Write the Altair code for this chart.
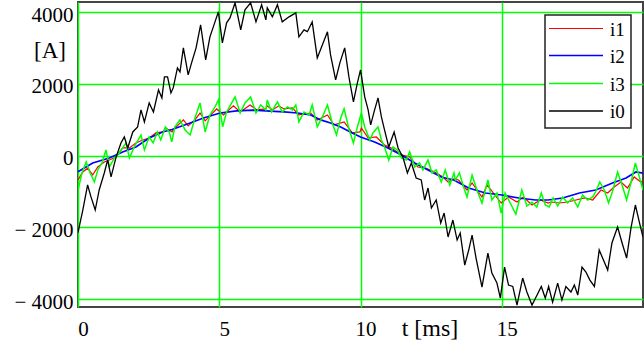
import altair as alt
import pandas as pd

# ---- data (t in ms, current in A) ----
i0_t = [0, 0.17, 0.34, 0.46, 0.61, 0.75, 0.93, 1.05, 1.17, 1.35, 1.52, 1.64, 1.76, 1.94, 2.11, 2.23,
        2.35, 2.52, 2.67, 2.85, 2.97, 3.06, 3.17, 3.29, 3.37, 3.52, 3.61, 3.73, 3.90, 4.02, 4.18, 4.34,
        4.52, 4.67, 4.79, 4.97, 5.11, 5.26, 5.38, 5.56, 5.76, 5.91, 6.11, 6.30, 6.50, 6.65, 6.70, 6.88,
        7.06, 7.23, 7.47, 7.71, 7.82, 8.00, 8.12, 8.29, 8.47, 8.68, 8.83, 8.94, 9.12, 9.27, 9.44, 9.59,
        9.75, 9.89, 10.0, 10.15, 10.27, 10.36, 10.48, 10.62, 10.74, 10.85, 11.0, 11.19, 11.33, 11.5,
        11.66, 11.80, 11.97, 12.15, 12.27, 12.39, 12.51, 12.68, 12.84, 12.96, 13.10, 13.27, 13.42, 13.53,
        13.69, 13.83, 13.95, 14.09, 14.30, 14.51, 14.65, 14.83, 14.95, 15.10, 15.24, 15.39, 15.54, 15.74,
        15.89, 16.07, 16.25, 16.40, 16.54, 16.66, 16.80, 16.98, 17.13, 17.27, 17.45, 17.57, 17.69, 17.84,
        17.98, 18.12, 18.28, 18.45, 18.60, 18.75, 18.90, 19.10, 19.26, 19.42, 19.58, 19.73, 19.87, 20.0]
i0_v = [-2150, -1517, -818, -1150, -1517, -958, -483, -120, -594, -36, 355, 522, 215, 662, 802, 1276,
        941, 1472, 1220, 1835, 1611, 2198, 2198, 1751, 1891, 2450, 2338, 3008, 2254, 2589, 3008, 3651,
        2673, 3316, 3595, 4014, 3148, 3706, 3846, 4265, 3511, 4070, 4265, 3734, 4209, 3790, 4125, 3874,
        4209, 3734, 3874, 3985, 3316, 3511, 3460, 3734, 2729, 3148, 3455, 2812, 2114, 2589, 3008, 2198,
        1500, 2030, 2394, 1640, 1276, 857, 1220, 1611, 1081, 718, 243, 662, 215, -36,
        -483, -204, -623, -679, -1237, -902, -1461, -1237, -1880, -1600, -2270, -1796, -2354, -2159,
        -3052, -2634, -2215, -2857, -3667, -2717, -3276, -3555, -3974, -3109, -3611, -3650, -4170, -3415,
        -3806, -4170, -3890, -3650, -3974, -3650, -4086, -3555, -4030, -3650, -3806, -3611, -3890, -3109,
        -3248, -3471, -3650, -2634, -2913, -3192, -2438, -1991, -2438, -2857, -1991, -1377, -1852, -2270]

i1_t = [0, 0.17, 0.34, 0.52, 0.70, 0.93, 1.11, 1.35, 1.58, 1.82, 2.05, 2.29, 2.52, 2.76, 3.0, 3.11,
        3.33, 3.37, 3.73, 3.90, 4.14, 4.32, 4.50, 4.91, 5.15, 5.50, 5.74, 6.09, 6.33, 6.65, 6.70, 6.88,
        7.11, 7.29, 7.59, 7.82, 8.24, 8.47, 8.83, 9.06, 9.42, 9.71, 9.98, 10.03, 10.27, 10.56, 10.85,
        11.09, 11.45, 11.74, 12.03, 12.33, 12.62, 12.92, 13.10, 13.31, 13.47, 13.77, 13.95, 14.30, 14.48,
        14.98, 15.24, 15.54, 15.77, 16.07, 16.37, 16.64, 16.74, 17.04, 17.33, 17.63, 17.93, 18.22, 18.51,
        18.75, 18.98, 19.22, 19.45, 19.69, 19.92, 20.0]
i1_v = [-680, -455, -350, -539, -316, -176, -120, -36, 215, 215, 355, 438, 494, 634, 662, 771,
        662, 718, 997, 830, 997, 1190, 970, 1304, 1136, 1390, 1220, 1415, 1276, 1304, 1390, 1276,
        1390, 1304, 1330, 1136, 1190, 997, 1136, 858, 941, 634, 662, 771, 494, 522, 299,
        215, 20, -36, -316, -350, -455, -594, -734, -650, -679, -958, -762, -1153, -818,
        -1321, -1153, -1293, -1153, -1377, -1237, -1321, -1293, -1321, -1293, -1237, -1181, -1237, -958,
        -1041, -874, -734, -902, -594, -734, -700]

i2_t = [0, 0.52, 1.11, 1.58, 2.05, 2.52, 3.0, 3.33, 3.97, 4.44, 5.03, 5.62, 6.2, 6.65, 7.29, 7.77,
        8.24, 8.59, 8.94, 9.30, 9.71, 10.0, 10.5, 10.97, 11.45, 11.92, 12.39, 12.86, 13.3, 13.83, 14.42,
        15.0, 15.6, 16.2, 16.64, 17.16, 17.75, 18.33, 18.92, 19.4, 19.75, 20.0]
i2_v = [-447, -204, -64, 103, 243, 494, 662, 730, 911, 1050, 1190, 1250, 1270, 1250, 1220, 1190,
        1136, 997, 911, 802, 634, 522, 383, 215, 20, -204, -399, -594, -679, -902, -1041,
        -1097, -1181, -1237, -1237, -1181, -1041, -958, -762, -623, -455, -490]

i3_t = [0, 0.14, 0.29, 0.43, 0.58, 0.70, 0.85, 0.99, 1.11, 1.29, 1.46, 1.70, 1.82, 1.99, 2.23, 2.35,
        2.52, 2.66, 2.81, 2.93, 3.09, 3.23, 3.32, 3.43, 3.61, 3.79, 3.97, 4.14, 4.32, 4.50, 4.67, 4.85,
        4.97, 5.12, 5.26, 5.44, 5.56, 5.74, 5.91, 6.11, 6.30, 6.47, 6.65, 6.70, 6.85, 7.06, 7.23, 7.41,
        7.59, 7.71, 7.82, 8.0, 8.18, 8.29, 8.47, 8.65, 8.83, 9.0, 9.15, 9.30, 9.42, 9.59, 9.75, 9.89,
        9.98, 10.03, 10.15, 10.33, 10.44, 10.62, 10.74, 10.85, 11.0, 11.15, 11.30, 11.45, 11.62, 11.74,
        11.92, 12.09, 12.21, 12.39, 12.53, 12.68, 12.86, 13.0, 13.16, 13.31, 13.36, 13.50, 13.65, 13.77,
        13.95, 14.12, 14.30, 14.51, 14.65, 14.83, 14.98, 15.12, 15.30, 15.50, 15.71, 15.89, 16.07, 16.24,
        16.40, 16.54, 16.68, 16.82, 16.98, 17.16, 17.33, 17.51, 17.69, 17.86, 18.04, 18.22, 18.33, 18.47,
        18.63, 18.78, 18.92, 19.10, 19.26, 19.42, 19.58, 19.73, 19.87, 20.0]
i3_v = [-958, -483, -176, -483, -734, -399, -204, 159, -316, -64, 75, 355, -64, 243, 578, 159,
        522, 355, 662, 438, 802, 662, 383, 802, 997, 718, 578, 1050, 1472, 662, 1136, 1360,
        1555, 802, 1220, 1472, 1640, 1190, 1472, 1640, 1190, 1415, 1276, 1555, 1220, 1500, 1220, 1360,
        1276, 1415, 941, 1220, 1136, 1415, 802, 1081, 1415, 911, 578, 1050, 1304, 746, 355, 802,
        1050, 1190, 802, 438, 634, 802, 438, 243, -120, 243, 159, -64, -120, 103,
        -316, -204, -399, -120, -483, -399, -734, -399, -818, -483, -679, -483, -874, -1153,
        -539, -958, -1321, -679, -1237, -1041, -1600, -1041, -1321, -1628, -958, -1405, -1300, -1433,
        -1041, -1377, -1433, -1181, -1405, -1153, -1321, -1181, -1433, -1097, -1237, -1153, -1000, -734,
        -958, -1321, -1000, -455, -818, -1237, -734, -204, -594, -958]

series_names = ["i1", "i2", "i3", "i0"]
series_colors = ["#ff0000", "#0000ff", "#00ff00", "#000000"]
series_widths = [1.2, 1.7, 1.5, 1.3]
series_data = [(i1_t, i1_v), (i2_t, i2_v), (i3_t, i3_v), (i0_t, i0_v)]

y_ticks = [-4000, -2000, 0, 2000, 4000]
x_ticks = [0, 5, 10, 15]

FONT = "Liberation Serif"
W, H = 565, 305

xenc = alt.X("t:Q",
             scale=alt.Scale(domain=[0, 20], nice=False, zero=False),
             axis=alt.Axis(values=x_ticks, title=None, grid=True, ticks=False, domain=False,
                           labelFont=FONT, labelFontSize=21, labelColor="black",
                           labelOffset=5, labelPadding=11, labelFlush=False,
                           gridColor="#00ff00", gridWidth=1.5, gridOpacity=1))
yenc = alt.Y("v:Q",
             scale=alt.Scale(domain=[-4223, 4288], nice=False, zero=False),
             axis=alt.Axis(values=y_ticks, title=None, grid=True, ticks=False, domain=False,
                           labelFont=FONT, labelFontSize=21, labelColor="black",
                           labelPadding=5, labelFlush=False, labelOffset=3,
                           labelExpr="datum.value < 0 ? '\u2212 ' + format(abs(datum.value), 'd') : format(datum.value, 'd')",
                           gridColor="#00ff00", gridWidth=1.5, gridOpacity=1))

layers = []
for name, col, sw, (t, v) in zip(series_names, series_colors, series_widths, series_data):
    df = pd.DataFrame({"t": t, "v": v, "series": name})
    layers.append(alt.Chart(df).mark_line(color=col, strokeWidth=sw, clip=True).encode(x=xenc, y=yenc))

# legend box (drawn by hand, Mathcad style)
leg_df = pd.DataFrame({"series": series_names})
legend_box = alt.Chart(leg_df).transform_filter("datum.series == 'i1'").mark_rect(
    fill="white", stroke="#222", strokeWidth=1.5).encode(
    x=alt.value(467), x2=alt.value(553), y=alt.value(13), y2=alt.value(126))
layers.append(legend_box)
row_y = [26.5, 53.5, 81.5, 109]
for name, col, sw, yy in zip(series_names, series_colors, series_widths, row_y):
    one = leg_df[leg_df.series == name]
    layers.append(alt.Chart(one).mark_rule(color=col, strokeWidth=sw).encode(
        x=alt.value(471), x2=alt.value(525), y=alt.value(yy)))
    layers.append(alt.Chart(one).mark_text(align="left", baseline="middle", font=FONT,
                                           fontSize=19, color="black").encode(
        x=alt.value(532), y=alt.value(yy + 1), text="series:N"))

unit_df = pd.DataFrame({"label": ["[A]"]})
layers.append(alt.Chart(unit_df).mark_text(font=FONT, fontSize=23, color="black",
                                           baseline="middle", align="center").encode(
    x=alt.value(-28), y=alt.value(49), text="label:N"))
tlab_df = pd.DataFrame({"label": ["t [ms]"]})
layers.append(alt.Chart(tlab_df).mark_text(font=FONT, fontSize=24, color="black",
                                           baseline="middle", align="center").encode(
    x=alt.value(352), y=alt.value(327), text="label:N"))

chart = alt.layer(*layers).properties(
    width=W, height=H,
    autosize=alt.AutoSizeParams(type="none"),
    padding={"left": 78, "top": 2, "right": 1, "bottom": 40},
    background="white",
).configure_view(stroke="#444", strokeWidth=2)

chart.save("out.html", embed_options={"renderer": "svg", "actions": False})
